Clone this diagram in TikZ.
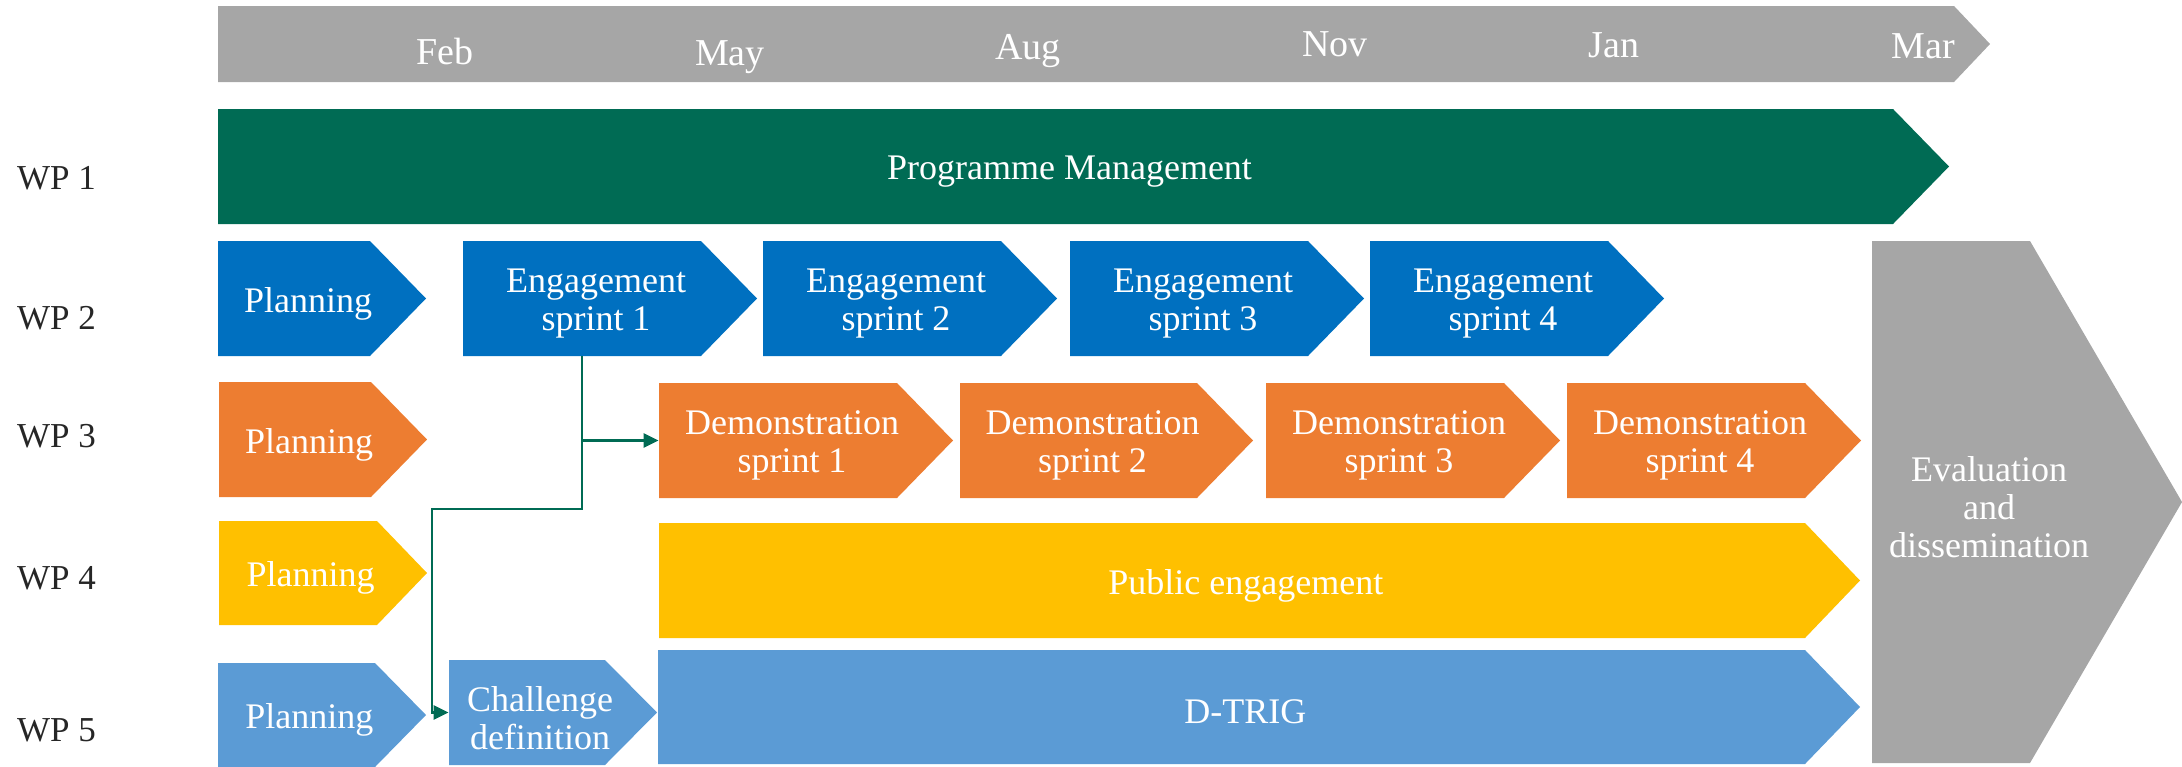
\documentclass[tikz,border=0pt]{standalone}
\usepackage{fontspec}
\setmainfont{Liberation Serif}
\usetikzlibrary{arrows.meta,calc}

\definecolor{tlgray}{HTML}{A6A6A6}
\definecolor{pmgreen}{HTML}{006B54}
\definecolor{engblue}{HTML}{0070C0}
\definecolor{demoorange}{HTML}{ED7D31}
\definecolor{pubyellow}{HTML}{FFC000}
\definecolor{trigblue}{HTML}{5B9BD5}
\definecolor{wpgray}{HTML}{262626}

% name, colour, left, body end, top, bottom, tip, text
\newcommand{\chev}[8]{%
  \fill[#2] (#3,#5) -- (#4,#5) -- ({#4+#7},{(#5+#6)/2}) -- (#4,#6) -- (#3,#6) -- cycle;
  \node[box, minimum width={(#4+#7/2-#3)*0.5pt}, minimum height={(#6-#5)*0.5pt}]
    (#1) at ({(#3+#4+#7/2)/2},{(#5+#6)/2}) {#8};
}

\begin{document}
\begin{tikzpicture}[x=0.5pt,y=-0.5pt,
  box/.style={inner sep=0pt, text=white, align=center, font=\fontsize{18}{19}\selectfont,
    yshift=-2.6pt},
  month/.style={text=white, anchor=base, font=\fontsize{19}{21}\selectfont},
  wp/.style={text=wpgray, anchor=base west, font=\fontsize{17.5}{19}\selectfont},
  link/.style={draw=pmgreen, line width=1.3pt, -{Triangle[length=7.5pt,width=7pt]}}]
  \useasboundingbox (0,0) rectangle (2182,766);

  %timeline
  \chev{time}{tlgray}{218}{1954}{6}{82}{36}{}
  \node[month] (feb) at (445,64) {Feb};
  \node[month] (may) at (730,65) {May};
  \node[month] (aug) at (1028,59) {Aug};
  \node[month] (nov) at (1335,56) {Nov};
  \node[month] (jan) at (1614,57) {Jan};
  \node[month] (mar) at (1923,58) {Mar};

  %work packages
  \node[wp] (wp1) at (10,189) {WP 1};
  \node[wp] (wp2) at (10,329) {WP 2};
  \node[wp] (wp3) at (10,447) {WP 3};
  \node[wp] (wp4) at (10,589) {WP 4};
  \node[wp] (wp5) at (10,741) {WP 5};

  \chev{prog}{pmgreen}{218}{1893}{109}{224}{56}{Programme Management}

  \chev{plan2}{engblue}{218}{370}{241}{356}{56}{Planning}
  \chev{eng1}{engblue}{463}{701}{241}{356}{56}{Engagement\\sprint 1}
  \chev{eng2}{engblue}{763}{1001}{241}{356}{56}{Engagement\\sprint 2}
  \chev{eng3}{engblue}{1070}{1308}{241}{356}{56}{Engagement\\sprint 3}
  \chev{eng4}{engblue}{1370}{1608}{241}{356}{56}{Engagement\\sprint 4}

  \chev{plan3}{demoorange}{219}{371}{382}{497}{56}{Planning}
  \chev{demo1}{demoorange}{659}{897}{383}{498}{56}{Demonstration\\sprint 1}
  \chev{demo2}{demoorange}{960}{1197}{383}{498}{56}{Demonstration\\sprint 2}
  \chev{demo3}{demoorange}{1266}{1504}{383}{498}{56}{Demonstration\\sprint 3}
  \chev{demo4}{demoorange}{1567}{1805}{383}{498}{56}{Demonstration\\sprint 4}

  \chev{plan4}{pubyellow}{219}{377}{521}{625}{50}{Planning}
  \chev{pub}{pubyellow}{659}{1805}{523}{638}{55}{Public engagement}

  \chev{plan5}{trigblue}{218}{375}{663}{767}{51}{Planning}
  \chev{chal}{trigblue}{449}{605}{660}{765}{52}{Challenge\\definition}
  \chev{trig}{trigblue}{658}{1805}{650}{764}{55}{D-TRIG}

  \chev{eval}{tlgray}{1872}{2030}{241}{763}{152}{Evaluation\\and\\dissemination}

  %links (boxes sit 2.6pt low, so shift back)
  \coordinate (drop) at ([xshift=-7pt,yshift=2.6pt]eng1.south);
  \coordinate (bend) at (432,509);
  \draw[link] (drop) |- ([yshift=2.6pt]demo1.west);
  \draw[link] (drop) |- (bend) |- ([yshift=2.6pt]chal.west);
\end{tikzpicture}
\end{document}
